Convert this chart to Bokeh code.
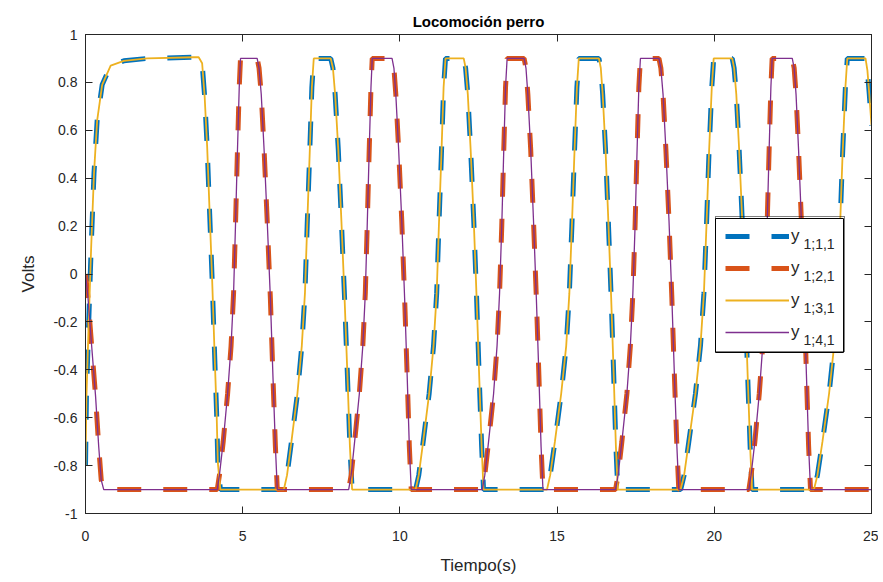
from bokeh.plotting import figure
from bokeh.models import FixedTicker, LinearAxis, Legend, LegendItem, Label, Range1d, BoxAnnotation
from bokeh.embed import file_html
from bokeh.resources import INLINE

# ---------------- data ----------------
x_ticks = [0, 5, 10, 15, 20, 25]
y_tick_labels = ["-1", "-0.8", "-0.6", "-0.4", "-0.2", "0", "0.2", "0.4", "0.6", "0.8", "1"]
y_ticks = [-1.0, -0.8, -0.6, -0.4, -0.2, 0.0, 0.2, 0.4, 0.6, 0.8, 1.0]

series_labels = ["1;1,1", "1;2,1", "1;3,1", "1;4,1"]

# y_{1;1,1} (and the identical y_{1;3,1})
tiempo_a = [
    0.00, 0.03, 0.11, 0.18, 0.27, 0.37, 0.53, 0.80, 1.22, 1.96, 3.44, 3.60,
    3.71, 3.79, 3.87, 3.95, 4.03, 4.10, 4.17, 4.21, 4.29,
    6.31, 6.41, 6.55, 6.74, 6.88, 6.98, 7.05, 7.13, 7.20, 7.26,
    7.80, 7.87, 7.94, 8.04, 8.14, 8.24, 8.33, 8.41, 8.48,
    10.50, 10.60, 10.74, 10.93, 11.07, 11.17, 11.24, 11.32, 11.39, 11.45,
    12.03, 12.09, 12.16, 12.25, 12.35, 12.44, 12.52, 12.60, 12.66,
    14.68, 14.78, 14.93, 15.13, 15.29, 15.39, 15.47, 15.55, 15.63, 15.69,
    16.33, 16.39, 16.45, 16.54, 16.63, 16.72, 16.80, 16.87, 16.93,
    18.93, 19.04, 19.19, 19.40, 19.56, 19.67, 19.75, 19.83, 19.92, 19.98,
    20.57, 20.63, 20.70, 20.79, 20.89, 20.98, 21.06, 21.14, 21.20,
    23.17, 23.28, 23.44, 23.65, 23.81, 23.91, 24.00, 24.08, 24.17, 24.23,
    24.81, 24.87, 24.93, 25.00,
]
volts_a = [
    -0.80, -0.51, -0.17, 0.11, 0.42, 0.64, 0.79, 0.87, 0.89, 0.90, 0.905, 0.905,
    0.88, 0.74, 0.53, 0.25, -0.03, -0.31, -0.58, -0.79, -0.90,
    -0.90, -0.84, -0.70, -0.50, -0.30, -0.08, 0.20, 0.50, 0.78, 0.90,
    0.90, 0.86, 0.75, 0.52, 0.22, -0.10, -0.42, -0.72, -0.90,
    -0.90, -0.84, -0.70, -0.50, -0.30, -0.08, 0.20, 0.50, 0.78, 0.90,
    0.90, 0.86, 0.75, 0.52, 0.22, -0.10, -0.42, -0.72, -0.90,
    -0.90, -0.84, -0.70, -0.50, -0.30, -0.08, 0.20, 0.50, 0.78, 0.90,
    0.90, 0.86, 0.75, 0.52, 0.22, -0.10, -0.42, -0.72, -0.90,
    -0.90, -0.84, -0.70, -0.50, -0.30, -0.08, 0.20, 0.50, 0.78, 0.90,
    0.90, 0.86, 0.75, 0.52, 0.22, -0.10, -0.42, -0.72, -0.90,
    -0.90, -0.84, -0.70, -0.50, -0.30, -0.08, 0.20, 0.50, 0.78, 0.90,
    0.90, 0.85, 0.75, 0.62,
]

# y_{1;2,1} (and the identical y_{1;4,1})
tiempo_b = [
    0.00, 0.08, 0.16, 0.32, 0.42, 0.50, 0.58,
    4.19, 4.26, 4.38, 4.52, 4.63, 4.71, 4.77, 4.83, 4.89, 4.93,
    5.46, 5.52, 5.59, 5.68, 5.78, 5.88, 5.96, 6.04, 6.10,
    8.37, 8.45, 8.56, 8.71, 8.82, 8.90, 8.96, 9.02, 9.08, 9.12,
    9.75, 9.81, 9.87, 9.96, 10.06, 10.15, 10.23, 10.30, 10.36,
    12.62, 12.70, 12.82, 12.98, 13.09, 13.17, 13.24, 13.30, 13.36, 13.41,
    13.95, 14.01, 14.07, 14.16, 14.25, 14.34, 14.42, 14.49, 14.55,
    16.86, 16.94, 17.06, 17.22, 17.33, 17.41, 17.48, 17.54, 17.60, 17.65,
    18.24, 18.30, 18.37, 18.46, 18.56, 18.65, 18.73, 18.81, 18.87,
    21.10, 21.17, 21.29, 21.43, 21.54, 21.62, 21.68, 21.74, 21.80, 21.84,
    22.48, 22.54, 22.60, 22.68, 22.77, 22.86, 22.93, 23.00, 23.06,
    25.00,
]
volts_b = [
    0.00, -0.10, -0.24, -0.51, -0.72, -0.86, -0.90,
    -0.90, -0.84, -0.70, -0.50, -0.30, -0.08, 0.20, 0.50, 0.78, 0.90,
    0.90, 0.86, 0.75, 0.52, 0.22, -0.10, -0.42, -0.72, -0.90,
    -0.90, -0.84, -0.70, -0.50, -0.30, -0.08, 0.20, 0.50, 0.78, 0.90,
    0.90, 0.86, 0.75, 0.52, 0.22, -0.10, -0.42, -0.72, -0.90,
    -0.90, -0.84, -0.70, -0.50, -0.30, -0.08, 0.20, 0.50, 0.78, 0.90,
    0.90, 0.86, 0.75, 0.52, 0.22, -0.10, -0.42, -0.72, -0.90,
    -0.90, -0.84, -0.70, -0.50, -0.30, -0.08, 0.20, 0.50, 0.78, 0.90,
    0.90, 0.86, 0.75, 0.52, 0.22, -0.10, -0.42, -0.72, -0.90,
    -0.90, -0.84, -0.70, -0.50, -0.30, -0.08, 0.20, 0.50, 0.78, 0.90,
    0.90, 0.86, 0.75, 0.52, 0.22, -0.10, -0.42, -0.72, -0.90,
    -0.90,
]

# ---------------- styling ----------------
FONT = "Liberation Sans"
AX = "#262626"
BLUE, RED, YELLOW, PURPLE = "#0072BD", "#D95319", "#EDB120", "#7E2F8E"

p = figure(width=878, height=582, x_range=Range1d(0, 25), y_range=Range1d(-1, 1),
           output_backend="svg", toolbar_location=None,
           min_border_left=85, min_border_right=7, min_border_top=34, min_border_bottom=69)
p.background_fill_color = "white"
p.border_fill_color = "white"
p.outline_line_color = AX
p.outline_line_width = 1
p.grid.visible = False

p.title.text = "Locomoción perro"
p.title.align = "center"
p.title.text_font = FONT
p.title.text_font_size = "15px"
p.title.text_font_style = "bold"
p.title.text_color = "black"

xa = p.xaxis[0]
ya = p.yaxis[0]
xa.ticker = FixedTicker(ticks=x_ticks)
ya.ticker = FixedTicker(ticks=y_ticks)
ya.major_label_overrides = {v: s for v, s in zip(y_ticks, y_tick_labels)}
for ax in (xa, ya):
    ax.axis_line_color = AX
    ax.major_tick_line_color = AX
    ax.major_tick_in = 7
    ax.major_tick_out = 0
    ax.minor_tick_in = 0
    ax.minor_tick_out = 0
    ax.major_label_text_font = FONT
    ax.major_label_text_font_size = "14px"
    ax.major_label_text_color = AX
    ax.axis_label_text_font = FONT
    ax.axis_label_text_font_size = "17px"
    ax.axis_label_text_font_style = "normal"
    ax.axis_label_text_color = AX
xa.axis_label = "Tiempo(s)"
ya.axis_label = "Volts"
xa.major_label_standoff = 17
ya.major_label_standoff = 8
xa.axis_label_standoff = 12
ya.axis_label_standoff = 12

for side, tk in (("above", x_ticks), ("right", y_ticks)):
    ax2 = LinearAxis(ticker=FixedTicker(ticks=tk), major_label_text_font_size="1px",
                     major_label_text_color=None,
                     major_tick_in=7, major_tick_out=0, minor_tick_in=0, minor_tick_out=0,
                     axis_line_color=AX, major_tick_line_color=AX, major_label_standoff=0)
    p.add_layout(ax2, side)

r1 = p.line(tiempo_a, volts_a, line_color=BLUE, line_width=5, line_dash="24 22")
r2 = p.line(tiempo_b, volts_b, line_color=RED, line_width=5, line_dash="24 22")
r3 = p.line(tiempo_a, volts_a, line_color=YELLOW, line_width=1.8)
r4 = p.line(tiempo_b, volts_b, line_color=PURPLE, line_width=1.3)

# white legend box under a transparent legend so the subscripts can sit on top
box = BoxAnnotation(left=630, right=758, bottom=161, top=295,
                    left_units="screen", right_units="screen",
                    top_units="screen", bottom_units="screen",
                    fill_color="white", fill_alpha=1.0, line_color="black",
                    line_width=1, line_alpha=1.0, level="annotation")
p.add_layout(box)

legend = Legend(items=[LegendItem(label="y", renderers=[r]) for r in (r1, r2, r3, r4)],
                location=(630, 161), glyph_width=64, glyph_height=20, label_height=20,
                label_width=44, label_standoff=2, padding=9, spacing=12, margin=0,
                border_line_color="black", border_line_width=1, background_fill_alpha=0,
                label_text_font=FONT, label_text_font_size="17px", label_text_color=AX)
p.add_layout(legend)

for i, s in enumerate(series_labels):
    lab = Label(x=718, y=270 - 32 * i, x_units="screen", y_units="screen", text=s,
                text_font=FONT, text_font_size="14px", text_color=AX,
                text_baseline="alphabetic", text_align="left", level="overlay")
    p.add_layout(lab)

open("out.html", "w").write(file_html(p, INLINE))
